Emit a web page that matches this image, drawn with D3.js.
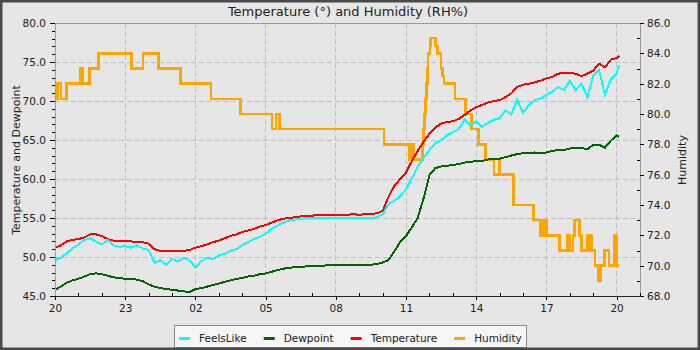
<!DOCTYPE html>
<html>
<head>
<meta charset="utf-8">
<script src="https://cdn.jsdelivr.net/npm/d3@7"></script>
<style>
  html, body { margin: 0; padding: 0; background: #e6e6e6; }
  svg { display: block; font-family: "DejaVu Sans", sans-serif; }
</style>
</head>
<body>
<svg id="chart" width="700" height="350"></svg>
<script>
// ---- data -------------------------------------------------------------
// Readings every 15 minutes from 20:00, last reading at 20:06 the next day.
const sampleMinutes = d3.range(0, 1441, 15).concat([1446]);

const temperature = [
  51.2, 51.5, 52.0, 52.2, 52.3, 52.5, 52.9, 52.9, 52.7, 52.3,
  52.1, 52.0, 52.0, 52.0, 51.9, 51.9, 51.7, 51.0, 50.8, 50.8,
  50.8, 50.8, 50.8, 50.9, 51.2, 51.4, 51.6, 51.9, 52.1, 52.4,
  52.7, 52.9, 53.2, 53.4, 53.6, 53.9, 54.1, 54.4, 54.7, 54.9,
  55.0, 55.1, 55.2, 55.3, 55.3, 55.4, 55.4, 55.4, 55.4, 55.4,
  55.4, 55.5, 55.4, 55.5, 55.5, 55.6, 55.9, 57.7, 59.1, 60.0,
  60.8, 62.3, 63.6, 64.8, 65.8, 66.6, 67.1, 67.3, 67.4, 67.7,
  68.2, 68.8, 69.2, 69.5, 69.8, 70.0, 70.1, 70.5, 71.0, 71.8,
  72.1, 72.2, 72.4, 72.6, 72.9, 73.1, 73.5, 73.6, 73.6, 73.5,
  73.2, 73.5, 73.9, 74.8, 74.3, 75.3, 75.5, 75.8
];

const dewpoint = [
  45.8, 46.2, 46.7, 47.0, 47.2, 47.5, 47.8, 47.9, 47.8, 47.6,
  47.4, 47.3, 47.2, 47.2, 47.1, 46.9, 46.5, 46.2, 46.0, 45.9,
  45.8, 45.7, 45.6, 45.5, 45.9, 46.0, 46.2, 46.4, 46.6, 46.8,
  47.0, 47.2, 47.3, 47.5, 47.6, 47.8, 47.9, 48.1, 48.3, 48.5,
  48.6, 48.7, 48.7, 48.8, 48.8, 48.9, 48.9, 49.0, 49.0, 49.0,
  49.0, 49.0, 49.0, 49.0, 49.0, 49.1, 49.3, 49.6, 50.7, 51.9,
  52.7, 53.8, 55.0, 57.5, 60.5, 61.4, 61.6, 61.7, 61.8, 61.9,
  62.1, 62.2, 62.3, 62.3, 62.5, 62.6, 62.6, 62.8, 63.0, 63.2,
  63.3, 63.3, 63.4, 63.3, 63.4, 63.6, 63.7, 63.7, 63.9, 64.0,
  64.0, 63.8, 64.4, 64.4, 64.0, 64.9, 65.6, 65.4
];

const feelsLike = [
  49.6, 49.9, 50.5, 51.1, 51.6, 52.2, 52.4, 52.0, 51.6, 52.2,
  51.5, 51.3, 51.4, 51.2, 51.5, 51.1, 50.9, 49.3, 49.6, 49.0,
  49.8, 49.4, 49.9, 49.6, 48.6, 49.5, 49.9, 49.7, 50.2, 50.4,
  50.8, 51.0, 51.5, 51.9, 52.3, 52.6, 53.0, 53.6, 54.0, 54.4,
  54.7, 54.8, 54.9, 55.0, 55.0, 55.0, 55.0, 55.0, 55.0, 55.0,
  55.0, 55.0, 55.0, 55.0, 55.0, 55.1, 55.5, 56.8, 57.2, 57.8,
  58.7, 60.1, 61.6, 62.7, 63.7, 64.6, 65.0, 65.6, 66.0, 66.4,
  67.6, 66.9, 67.4, 66.7, 67.2, 67.6, 67.8, 68.8, 68.3, 70.2,
  68.5, 69.5, 70.1, 70.3, 70.8, 71.2, 71.8, 71.4, 72.6, 71.4,
  72.2, 70.5, 73.2, 74.0, 70.8, 72.8, 73.5, 74.6
];

// Humidity is reported as changes: clock time of each change and the new value.
const humidityTimes = [
  "20:00", "20:06", "20:15", "20:30", "21:06", "21:12", "21:28", "21:51", "23:16", "23:45",
  "00:26", "01:22", "02:40", "03:56", "05:17", "05:27", "05:35", "10:04", "11:08", "11:11",
  "11:13", "11:15", "11:20", "11:42", "11:45", "11:47", "11:50", "11:52", "11:55", "11:57",
  "12:01", "12:03", "12:15", "12:21", "12:30", "12:34", "12:37", "13:05", "13:32", "13:48",
  "14:06", "14:24", "14:45", "14:58", "15:01", "15:35", "16:25", "16:26", "16:27", "16:43",
  "16:45", "16:47", "16:49", "16:52", "16:54", "16:56", "16:58", "17:01", "17:34", "17:54",
  "18:00", "18:08", "18:12", "18:25", "18:30", "18:46", "18:49", "18:51", "18:55", "19:05",
  "19:14", "19:19", "19:29", "19:41", "19:54", "20:01", "20:06"
];
const humidityValues = [
  81, 82, 81, 82, 83, 82, 83, 84, 83, 84,
  83, 82, 81, 80, 79, 80, 79, 78, 77, 78,
  77, 78, 77, 78, 79, 80, 81, 82, 83, 84,
  84.5, 85, 84.5, 84, 83, 82.5, 82, 81, 80, 79,
  78, 77, 76, 77, 76, 74, 73, 74, 73, 72,
  73, 72, 73, 72, 73, 72, 73, 72, 71, 72,
  71, 72, 73, 72, 71, 72, 71, 72, 71, 70,
  69, 70, 71, 70, 72, 70, 70
];

const seriesNames  = ["FeelsLike", "Dewpoint", "Temperature", "Humidity"];
const seriesColors = ["#00ffff", "#006400", "#ff0000", "#ffa500"];

const xTickLabels = ["20", "23", "02", "05", "08", "11", "14", "17", "20"];
const leftTicks   = [45, 50, 55, 60, 65, 70, 75, 80];
const rightTicks  = [68, 70, 72, 74, 76, 78, 80, 82, 84, 86];

const titleText = "Temperature (\u00b0) and Humidity (RH%)";
const leftLabel = "Temperature and Dewpoint";
const rightLabel = "Humidity";

// ---- scales -----------------------------------------------------------
const W = 700, H = 350;
const plot = { left: 55, right: 640, top: 23, bottom: 296 };
const t0 = new Date(2024, 0, 1, 20, 0);
const at = m => d3.timeMinute.offset(t0, m);

const x  = d3.scaleTime().domain([t0, at(25 * 60)]).range([plot.left, plot.right]);
const yL = d3.scaleLinear().domain([45, 80]).range([plot.bottom, plot.top]);
const yR = d3.scaleLinear().domain([68, 86]).range([plot.bottom, plot.top]);

// clock strings -> minutes after the 20:00 start, rolling over midnight
function clockToMinutes(list) {
  let prev = -1;
  return list.map(s => {
    const [h, m] = s.split(":").map(Number);
    let v = ((h * 60 + m) - 20 * 60 + 1440) % 1440;
    while (prev >= 0 && v < prev) v += 1440;
    prev = v;
    return v;
  });
}

const sampleDates = sampleMinutes.map(at);
const humidity = clockToMinutes(humidityTimes).map((m, i) => ({ t: at(m), v: humidityValues[i] }));
const asPoints = vals => vals.map((v, i) => ({ t: sampleDates[i], v }));

const xTickDates  = xTickLabels.map((_, i) => at(i * 180));
const xMinorDates = d3.range(0, 26).filter(h => h % 3 !== 0).map(h => at(h * 60));
const leftMinor   = d3.range(45, 81).filter(v => v % 5 !== 0);
const rightMinor  = d3.range(68, 87).filter(v => v % 2 !== 0);

// ---- drawing ----------------------------------------------------------
const svg = d3.select("#chart");
svg.append("rect").attr("width", W).attr("height", H).attr("fill", "#e6e6e6");

svg.append("defs").append("clipPath").attr("id", "plotClip")
  .append("rect")
  .attr("x", plot.left).attr("y", plot.top)
  .attr("width", plot.right - plot.left).attr("height", plot.bottom - plot.top);

// grid
const grid = svg.append("g").attr("stroke", "#bdbdbd").attr("stroke-dasharray", "5,3")
  .attr("shape-rendering", "crispEdges");
grid.selectAll("line.h").data(leftTicks.filter(v => v > 45 && v < 80)).join("line")
  .attr("x1", plot.left).attr("x2", plot.right)
  .attr("y1", d => yL(d)).attr("y2", d => yL(d));
grid.selectAll("line.v").data(xTickDates.slice(1)).join("line")
  .attr("x1", d => x(d)).attr("x2", d => x(d))
  .attr("y1", plot.top).attr("y2", plot.bottom);

// series, humidity underneath and feels-like on top
const lines = svg.append("g").attr("clip-path", "url(#plotClip)")
  .attr("fill", "none").attr("stroke-width", 2).attr("stroke-linejoin", "miter")
  .attr("shape-rendering", "crispEdges");

lines.append("path").datum(humidity)
  .attr("stroke", seriesColors[3]).attr("stroke-width", 2.5)
  .attr("d", d3.line().curve(d3.curveStepAfter).x(d => x(d.t)).y(d => yR(d.v)));

const leftLine = d3.line().x(d => x(d.t)).y(d => yL(d.v));
[[temperature, 2], [dewpoint, 1], [feelsLike, 0]].forEach(([vals, k]) => {
  lines.append("path").datum(asPoints(vals))
    .attr("stroke", seriesColors[k])
    .attr("d", leftLine);
});

// axes
const fmt = d3.format(".1f");
function styleAxis(g, domainColor) {
  g.attr("font-family", "DejaVu Sans, sans-serif").attr("font-size", 10.5);
  g.selectAll(".tick line").attr("stroke", "#000").attr("shape-rendering", "crispEdges");
  g.selectAll(".tick text").attr("fill", "#222");
  g.select(".domain").attr("stroke", domainColor).attr("shape-rendering", "crispEdges");
}

// left
svg.append("g").attr("transform", `translate(${plot.left},0)`)
  .call(d3.axisLeft(yL).tickValues(leftMinor).tickSize(3).tickFormat("").tickSizeOuter(0))
  .call(g => g.select(".domain").remove())
  .call(g => styleAxis(g, "none"));
svg.append("g").attr("transform", `translate(${plot.left},0)`)
  .call(d3.axisLeft(yL).tickValues(leftTicks).tickSize(5).tickPadding(4).tickFormat(fmt).tickSizeOuter(0))
  .call(g => styleAxis(g, "#999"));

// right
svg.append("g").attr("transform", `translate(${plot.right},0)`)
  .call(d3.axisRight(yR).tickValues(rightMinor).tickSize(-3).tickFormat("").tickSizeOuter(0))
  .call(g => g.select(".domain").remove())
  .call(g => styleAxis(g, "none"));
svg.append("g").attr("transform", `translate(${plot.right},0)`)
  .call(d3.axisRight(yR).tickValues(rightTicks).tickSize(4).tickPadding(3).tickFormat(fmt).tickSizeOuter(0))
  .call(g => styleAxis(g, "#999"));

// top border
svg.append("line").attr("x1", plot.left).attr("x2", plot.right)
  .attr("y1", plot.top).attr("y2", plot.top)
  .attr("stroke", "#999").attr("shape-rendering", "crispEdges");

// bottom
svg.append("g").attr("transform", `translate(0,${plot.bottom})`)
  .call(d3.axisBottom(x).tickValues(xMinorDates).tickSize(-3).tickFormat("").tickSizeOuter(0))
  .call(g => g.select(".domain").remove())
  .call(g => styleAxis(g, "none"));
svg.append("g").attr("transform", `translate(0,${plot.bottom})`)
  .call(d3.axisBottom(x).tickValues(xTickDates).tickSize(4).tickPadding(5)
    .tickFormat((d, i) => xTickLabels[i]).tickSizeOuter(0))
  .call(g => styleAxis(g, "#222"));

// titles
svg.append("text").attr("x", 348).attr("y", 15.5).attr("text-anchor", "middle")
  .attr("font-size", 13).attr("fill", "#222").text(titleText);
svg.append("text").attr("transform", `translate(20,160) rotate(-90)`)
  .attr("text-anchor", "middle").attr("font-size", 11).attr("fill", "#222").text(leftLabel);
svg.append("text").attr("transform", `translate(686,160) rotate(-90)`)
  .attr("text-anchor", "middle").attr("font-size", 11).attr("fill", "#222").text(rightLabel);

// legend
const legend = svg.append("g");
const legendBox = legend.append("rect")
  .attr("fill", "#f5f5f5").attr("stroke", "#8c8c8c").attr("shape-rendering", "crispEdges");
let cx = 179;
const items = legend.append("g");
seriesNames.forEach((name, i) => {
  items.append("rect").attr("x", cx).attr("y", 337).attr("width", 11).attr("height", 3)
    .attr("fill", seriesColors[i]);
  const t = items.append("text").attr("x", cx + 20).attr("y", 341.5)
    .attr("font-size", 10.5).attr("fill", "#222").text(name);
  cx += 20 + t.node().getComputedTextLength() + 17;
});
legendBox.attr("x", 174.5).attr("y", 325.5).attr("width", cx - 17 + 5 - 174.5).attr("height", 22);

// frame
svg.append("rect").attr("x", 1.25).attr("y", 1.25).attr("width", W - 2.5).attr("height", H - 2.5)
  .attr("fill", "none").attr("stroke", "#4a4a4a").attr("stroke-width", 2.5);
</script>
</body>
</html>
